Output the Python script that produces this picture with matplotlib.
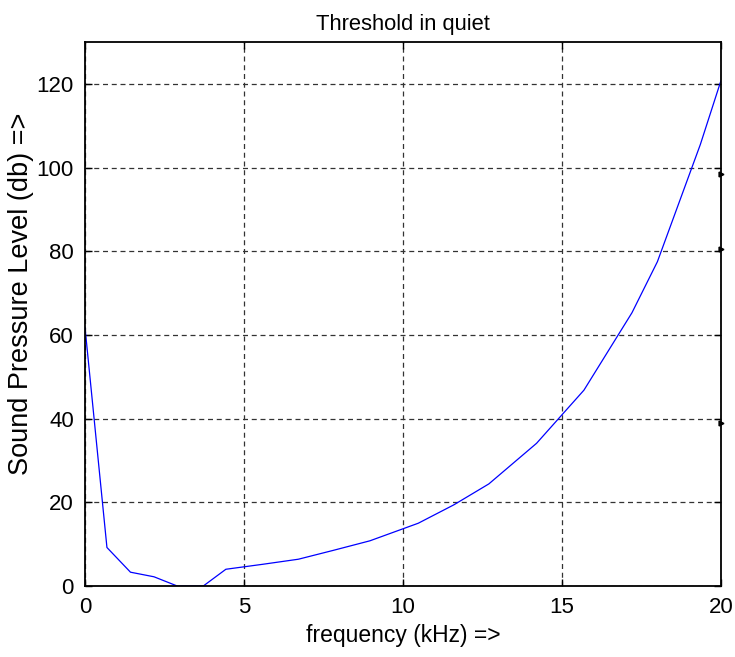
import matplotlib
matplotlib.use("Agg")
import matplotlib.pyplot as plt

plt.rcParams['font.family'] = ['Liberation Sans', 'DejaVu Sans']

freq_khz = [0, 0.69, 1.43, 2.17, 2.90, 3.72, 4.43, 5.6, 6.71, 7.8, 8.96,
            10.48, 11.6, 12.7, 14.2, 15.69, 17.2, 18.0, 19.35, 20]
spl_db = [61.8, 9.2, 3.3, 2.2, 0.0, 0.0, 4.0, 5.2, 6.4, 8.5, 10.8,
          15.0, 19.4, 24.4, 34.1, 46.8, 65.3, 77.5, 105.5, 120.8]
edge_marks = [98.4, 80.5, 39.0]

xticks = [0, 5, 10, 15, 20]
yticks = [0, 20, 40, 60, 80, 100, 120]

fig = plt.figure(figsize=(7.35, 6.57), dpi=100)
ax = fig.add_axes([85/735, 71/657, 636/735, 544/657])

ax.plot(freq_khz, spl_db, color='#0000ff', linewidth=0.9)
ax.plot([20]*len(edge_marks), edge_marks, linestyle='none', marker='>',
        markersize=3.5, color='black', clip_on=False)

ax.set_xlim(0, 20)
ax.set_ylim(0, 130)
ax.set_xticks(xticks)
ax.set_yticks(yticks)
ax.grid(True, color='#333333', linestyle=(0, (4, 3)), linewidth=0.9)
ax.tick_params(direction='in', length=5, width=1, labelsize=16, pad=8,
               top=True, right=True)
for s in ax.spines.values():
    s.set_linewidth(1.3)
    s.set_color('black')

ax.set_title('Threshold in quiet', fontsize=15.8, pad=9)
ax.set_xlabel('frequency (kHz) =>', fontsize=16.5, labelpad=4)
ax.set_ylabel('Sound Pressure Level (db) =>', fontsize=19.5)
ax.yaxis.set_label_coords(-0.08, 0.537)

fig.savefig('out.png', dpi=100, facecolor='white')
